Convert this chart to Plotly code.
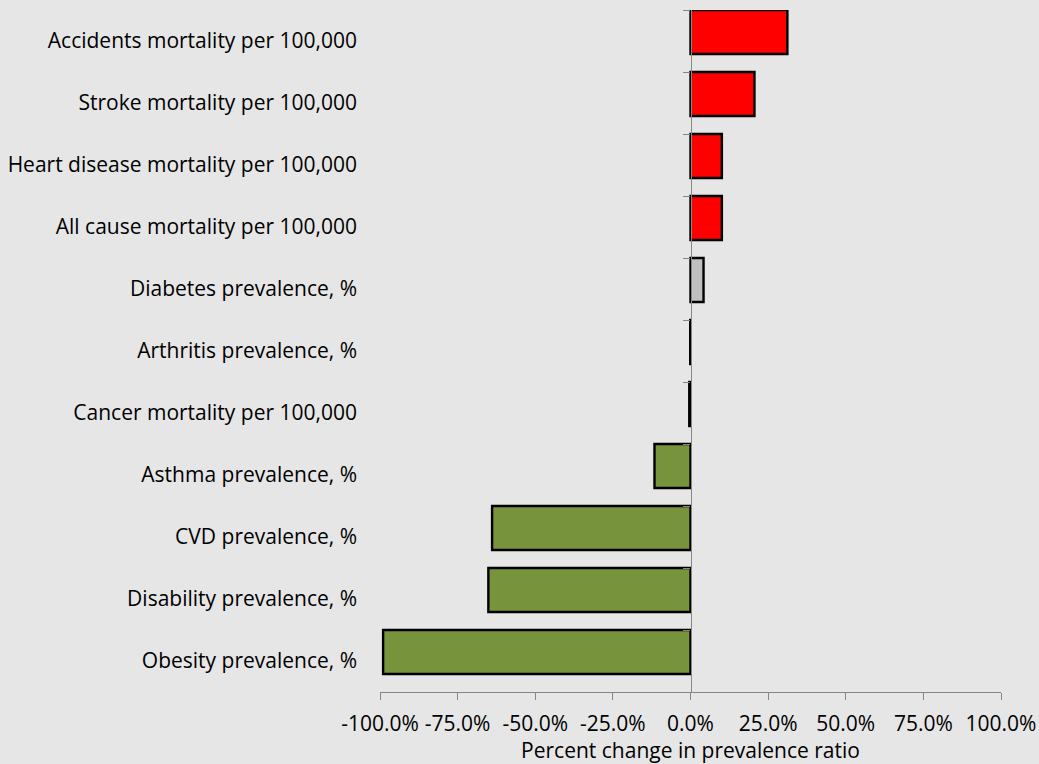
import plotly.graph_objects as go

# Outcome measures, listed top to bottom
categories = [
    "Accidents mortality per 100,000",
    "Stroke mortality per 100,000",
    "Heart disease mortality per 100,000",
    "All cause mortality per 100,000",
    "Diabetes prevalence, %",
    "Arthritis prevalence, %",
    "Cancer mortality per 100,000",
    "Asthma prevalence, %",
    "CVD prevalence, %",
    "Disability prevalence, %",
    "Obesity prevalence, %",
]
# Percent change in prevalence ratio
pct_change = [31.2, 20.6, 10.1, 10.1, 4.2, -0.1, -0.4, -11.6, -63.9, -65.1, -99.0]
# Direction group per measure: worse / unclear / better
groups = ["up", "up", "up", "up", "flat", "down", "down", "down", "down", "down", "down"]
group_colors = {"up": "#ff0000", "flat": "#c0c0c0", "down": "#77933c"}

x_ticks = [-100, -75, -50, -25, 0, 25, 50, 75, 100]
x_ticktext = [f"{v:.1f}%" for v in x_ticks]

BG = "#e6e6e6"
AXIS_GRAY = "#868686"
FONT = "Open Sans"
FS = 21

positions = list(range(len(categories)))
boundaries = [p - 0.5 for p in positions] + [positions[-1] + 0.5]

fig = go.Figure()
fig.add_trace(go.Bar(
    x=pct_change,
    y=positions,
    orientation="h",
    width=0.71,
    offset=-0.5,
    marker=dict(color=[group_colors[g] for g in groups],
                line=dict(color="black", width=2.4)),
    showlegend=False,
    hoverinfo="x+text",
    text=categories,
    textposition="none",
))
# carrier for the category axis drawn along the zero line
fig.add_trace(go.Scatter(x=[0], y=[0], yaxis="y2", mode="markers",
                         marker=dict(opacity=0), showlegend=False,
                         hoverinfo="skip"))

fig.update_layout(
    width=1039, height=764,
    margin=dict(l=380, r=38, t=10, b=72),
    paper_bgcolor=BG, plot_bgcolor=BG,
    font=dict(family=FONT, size=FS, color="black"),
    xaxis=dict(
        range=[-100, 100], tickvals=x_ticks, ticktext=x_ticktext,
        automargin=False,
        showgrid=False, zeroline=False,
        showline=True, linecolor=AXIS_GRAY, linewidth=1.3,
        ticks="outside", ticklen=7, tickcolor=AXIS_GRAY, tickwidth=1.3,
        tickfont=dict(size=FS),
        ticklabelstandoff=6,
        title=dict(text="Percent change in prevalence ratio", font=dict(size=FS), standoff=2),
    ),
    yaxis=dict(
        range=[len(categories) - 0.5, -0.5],
        tickvals=positions, ticktext=categories,
        automargin=False,
        showgrid=False, zeroline=False, showline=False, ticks="",
        ticklabelstandoff=22,
        tickfont=dict(size=FS),
    ),
    yaxis2=dict(
        overlaying="y", anchor="free", position=0.5,
        range=[len(categories) - 0.5, -0.5],
        tickvals=boundaries, showticklabels=False, automargin=False,
        showgrid=False, zeroline=False,
        showline=True, linecolor=AXIS_GRAY, linewidth=1.3,
        ticks="outside", ticklen=7, tickcolor=AXIS_GRAY, tickwidth=1.3,
    ),
)

fig.write_html("out.html")
